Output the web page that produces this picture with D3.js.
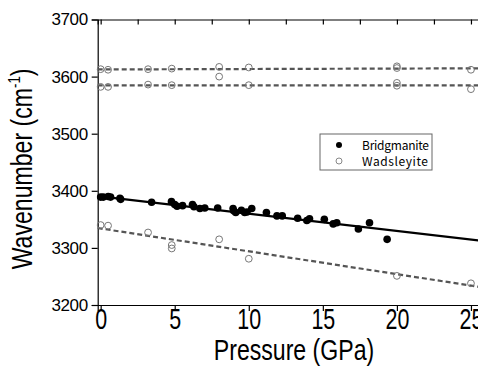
<!DOCTYPE html>
<html>
<head>
<meta charset="utf-8">
<script src="https://d3js.org/d3.v7.min.js"></script>
<style>
  body { margin: 0; background: #fff; }
  svg { display: block; }
</style>
</head>
<body>
<svg id="chart" width="478" height="366"></svg>
<script>
// values
var bgP = [0, 0.18, 0.51, 0.67, 1.3, 1.35, 3.44, 4.78, 5.0, 5.16, 5.53, 6.2, 6.3, 6.7, 7.03, 7.9,
           8.94, 8.98, 9.12, 9.5, 9.72, 9.88, 10.2, 11.19, 11.9, 12.26, 13.3, 13.92, 14.1, 15.1,
           15.7, 15.94, 17.4, 18.15, 19.34];
var bgW = [3389, 3389, 3390, 3389, 3387, 3385, 3380, 3381, 3376, 3373, 3374, 3376, 3372, 3369, 3370, 3370,
           3369, 3365, 3362, 3366, 3362, 3363, 3369, 3362, 3356, 3356, 3352, 3348, 3351, 3350,
           3342, 3344, 3333, 3344, 3315];

var wdP = [0, 0.5, 3.2, 4.8, 8, 8, 10, 20, 20, 25,
           0, 0.5, 3.2, 4.8, 10, 20, 20, 25,
           0, 0.5, 3.2, 4.8, 4.8, 8, 10, 20, 25];
var wdW = [3613, 3612, 3613, 3614, 3617, 3600, 3616, 3618, 3615, 3612,
           3582, 3582, 3586, 3585, 3585, 3589, 3584, 3578,
           3340, 3339, 3327, 3305, 3299, 3315, 3281, 3251, 3238];

// fitted lines (end points)
var fitP = [-0.2, 25.6];
var bgFit = [3390.6, 3312.7];
var wdFitHigh = [3612.5, 3614.5];
var wdFitMid = [3584.5, 3584.5];
var wdFitLow = [3334.8, 3231.6];

var xMajor = [0, 5, 10, 15, 20, 25];
var xMinor = [2.5, 7.5, 12.5, 17.5, 22.5];
var yMajor = [3200, 3300, 3400, 3500, 3600, 3700];
var yMinor = [3250, 3350, 3450, 3550, 3650];

var FONT = "'Liberation Sans', Arial, Helvetica, sans-serif";

var svg = d3.select("#chart");

var x = d3.scaleLinear().domain([-0.2, 25.6]).range([97.7, 97.7 + 25.8 * 14.812]);
var y = d3.scaleLinear().domain([3200, 3700]).range([305, 19.5]);

// bottom axis
var gx = svg.append("g").attr("transform", "translate(0," + y(3200) + ")");
gx.call(d3.axisBottom(x).tickValues(xMinor).tickSize(3).tickFormat(""));
gx.call(d3.axisBottom(x).tickValues(xMajor).tickSize(6).tickFormat(d3.format("d")));
gx.selectAll("text")
    .attr("y", 3.5)
    .attr("font-family", FONT)
    .attr("font-size", 29)
    .attr("fill", "#000")
    .attr("transform", "scale(0.74,1)");

// top axis, ticks inward
var gt = svg.append("g").attr("transform", "translate(0," + y(3700) + ")");
gt.call(d3.axisBottom(x).tickValues(xMajor.concat(xMinor)).tickSize(5).tickFormat(""));

// left axis
var gy = svg.append("g").attr("transform", "translate(" + x(-0.2) + ",0)");
gy.call(d3.axisLeft(y).tickValues(yMinor).tickSize(3).tickFormat(""));
gy.call(d3.axisLeft(y).tickValues(yMajor).tickSize(6).tickPadding(4).tickFormat(d3.format("d")));
gy.selectAll("text")
    .attr("font-family", FONT)
    .attr("font-size", 17)
    .attr("letter-spacing", -0.4)
    .attr("fill", "#000");

svg.selectAll(".domain, .tick line").attr("stroke", "#000").attr("stroke-width", 1.2);

// fit lines
var line = d3.line().x(function(d) { return x(d[0]); }).y(function(d) { return y(d[1]); });
[wdFitHigh, wdFitMid, wdFitLow].forEach(function(f) {
  svg.append("path")
      .attr("d", line(d3.zip(fitP, f)))
      .attr("fill", "none")
      .attr("stroke", "#555")
      .attr("stroke-width", 2.2)
      .attr("stroke-dasharray", "5,3");
});
svg.append("path")
    .attr("d", line(d3.zip(fitP, bgFit)))
    .attr("fill", "none")
    .attr("stroke", "#000")
    .attr("stroke-width", 2.2);

// points
svg.append("g").selectAll("circle")
    .data(d3.zip(wdP, wdW))
  .enter().append("circle")
    .attr("cx", function(d) { return x(d[0]); })
    .attr("cy", function(d) { return y(d[1]); })
    .attr("r", 3.4)
    .attr("fill", "none")
    .attr("stroke", "#777")
    .attr("stroke-width", 1);

svg.append("g").selectAll("circle")
    .data(d3.zip(bgP, bgW))
  .enter().append("circle")
    .attr("cx", function(d) { return x(d[0]); })
    .attr("cy", function(d) { return y(d[1]); })
    .attr("r", 3.8)
    .attr("fill", "#000");

// legend
var lg = svg.append("g").attr("transform", "translate(320,134)");
lg.append("rect").attr("width", 112).attr("height", 36)
    .attr("fill", "#fff").attr("stroke", "#666").attr("stroke-width", 1);
lg.append("circle").attr("cx", 19).attr("cy", 11).attr("r", 3).attr("fill", "#000");
lg.append("circle").attr("cx", 19).attr("cy", 27).attr("r", 3)
    .attr("fill", "none").attr("stroke", "#888");
lg.selectAll("text.lab")
    .data(["Bridgmanite", "Wadsleyite"])
  .enter().append("text")
    .attr("x", 42)
    .attr("y", function(d, i) { return 15.5 + i * 16; })
    .attr("font-family", "'Noto Sans CJK JP', sans-serif")
    .attr("font-size", 12)
    .attr("textLength", function(d, i) { return i ? 66 : 67; })
    .text(function(d) { return d; });

// axis titles
svg.append("g").attr("transform", "translate(294,360) scale(0.77,1)")
  .append("text")
    .attr("text-anchor", "middle")
    .attr("font-family", FONT)
    .attr("font-size", 30)
    .text("Pressure (GPa)");

var yt = svg.append("g").attr("transform", "translate(32,169) rotate(-90) scale(0.77,1)")
  .append("text")
    .attr("text-anchor", "middle")
    .attr("font-family", FONT)
    .attr("font-size", 30);
yt.append("tspan").text("Wavenumber (cm");
yt.append("tspan").attr("font-size", 17).attr("dy", -12).text("-1");
yt.append("tspan").attr("dy", 12).text(")");
</script>
</body>
</html>
